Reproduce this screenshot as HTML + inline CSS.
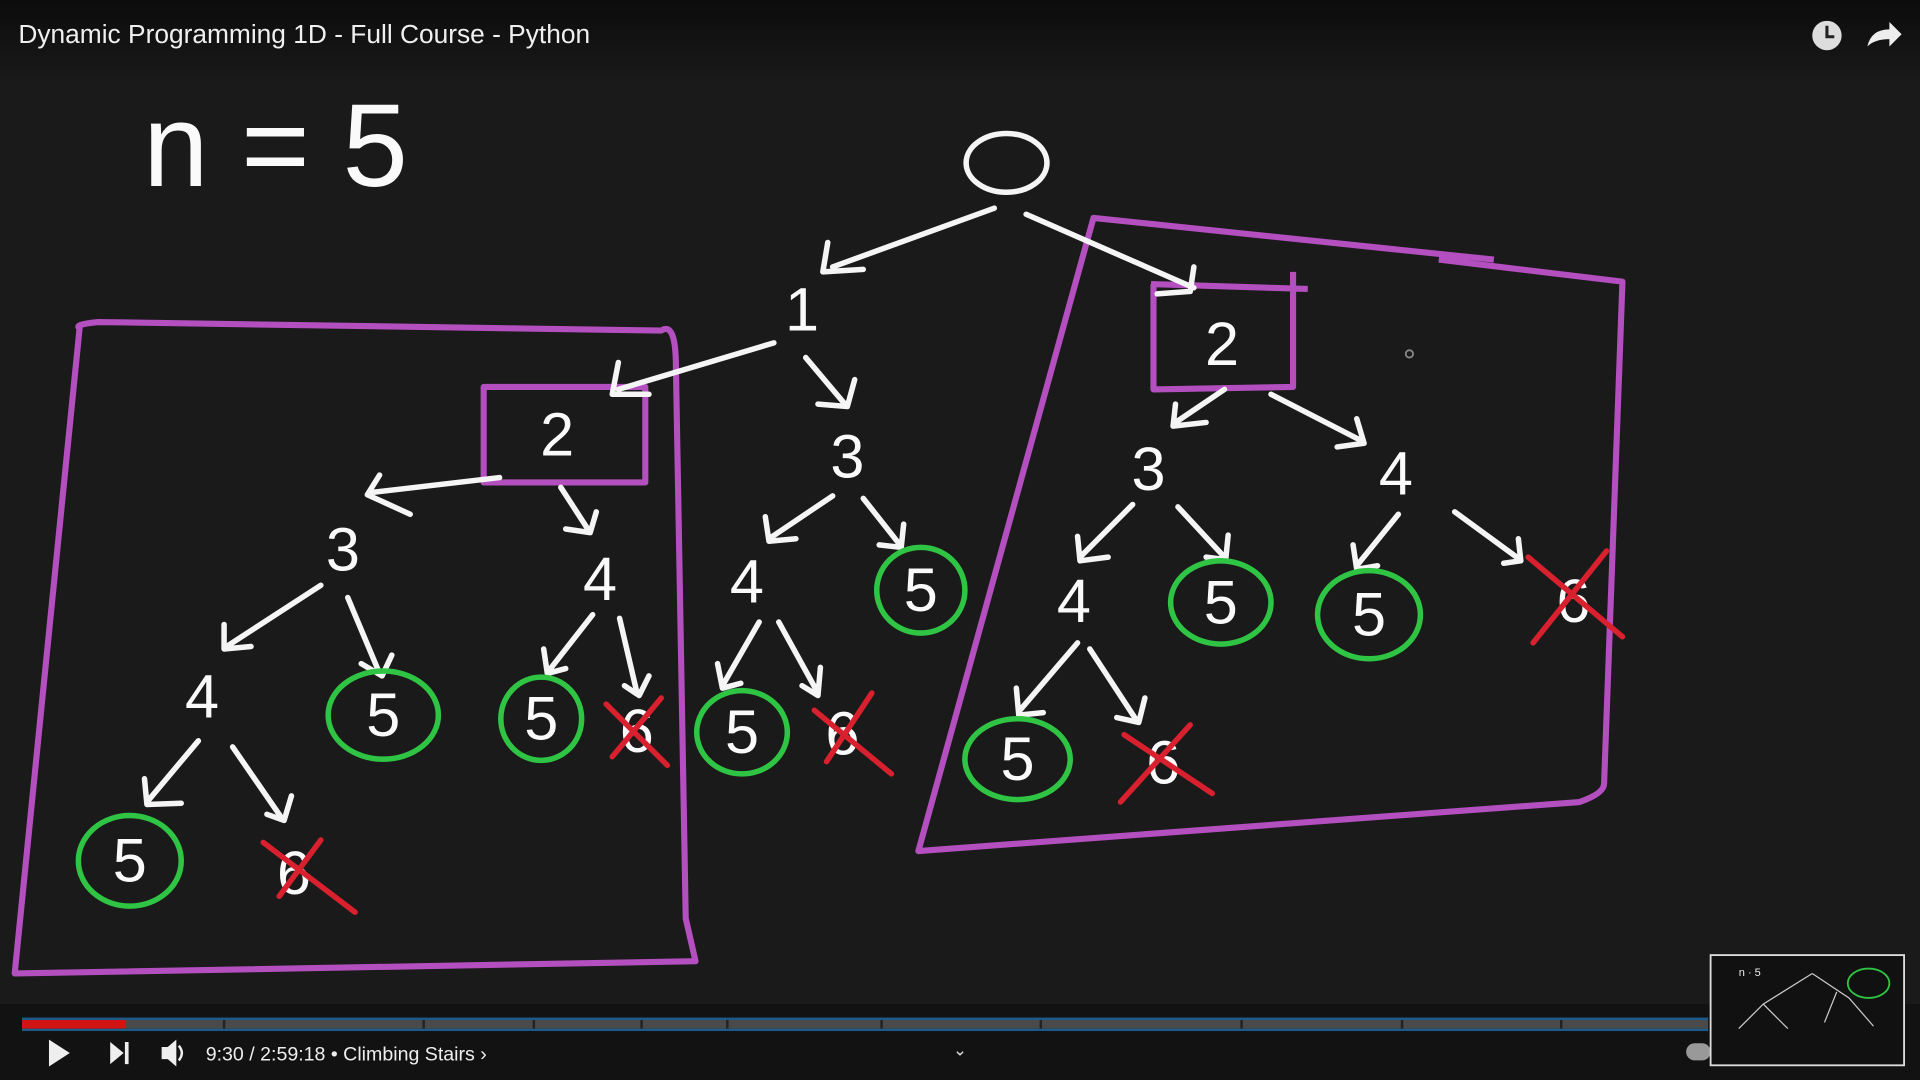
<!DOCTYPE html>
<html><head><meta charset="utf-8"><style>
html,body{margin:0;padding:0;background:#161616;width:1920px;height:1080px;overflow:hidden}
svg{display:block}
</style></head><body>
<svg width="1920" height="1080" viewBox="0 0 1568 882" xmlns="http://www.w3.org/2000/svg">
<defs>
<linearGradient id="top" x1="0" y1="0" x2="0" y2="1"><stop offset="0" stop-color="#0c0c0c"/><stop offset="1" stop-color="#1a1a1a"/></linearGradient>
</defs>
<rect width="1568" height="882" fill="#1a1a1a"/>
<rect width="1568" height="70" fill="url(#top)"/>
<rect y="820" width="1568" height="62" fill="#121212"/>
<text x="15" y="35" fill="#f0f0f0" font-family="Liberation Sans, sans-serif" font-size="21.5">Dynamic Programming 1D - Full Course - Python</text>
<circle cx="1492" cy="29" r="12" fill="#ddd"/><path d="M1492 21v9h6" stroke="#222" stroke-width="2.5" fill="none"/>
<path d="M1525 38q3-14 18-14v-6l10 10-10 10v-6q-12 0-18 6z" fill="#eee"/>

<g font-family="Liberation Sans, sans-serif" fill="#fafafa" text-anchor="middle">
<text x="225" y="152" font-size="96" font-weight="300">n = 5</text>
</g>

<!-- purple boxes -->
<g stroke="#b44fc0" stroke-width="5" fill="none" stroke-linejoin="round">
<path d="M65 268 Q60 265 80 263 L540 270 Q552 262 552 300 L560 750 L568 785 L12 795 Z"/>
<path d="M1220 212 L893 178 L750 695 L1290 655 Q1310 648 1310 640 L1325 230 L1175 212"/>
<rect x="395" y="316" width="132" height="78"/>
<path d="M940 232 L1068 236 M942 232 L942 318 L1056 316 L1056 222"/>
</g>

<!-- white arrows -->
<g stroke="#f5f5f5" stroke-width="4.5" fill="none" stroke-linecap="round" stroke-linejoin="round">
<ellipse cx="822" cy="133" rx="33" ry="24"/>
<path d="M812 170 L680 218 M676 198 L672 222 L705 220"/>
<path d="M838 175 L975 235 M975 218 L972 238 L945 240"/>
<path d="M632 280 L505 318 M505 296 L500 322 L530 322"/>
<path d="M658 292 L690 330 M698 310 L692 332 L668 330"/>
<path d="M408 390 L305 402 M310 388 L300 404 L335 420"/>
<path d="M458 398 L480 432 M487 418 L482 435 L462 432"/>
<path d="M262 478 L185 528 M183 510 L183 530 L205 528"/>
<path d="M284 488 L310 550 M320 535 L312 552 L295 542"/>
<path d="M484 502 L448 548 M444 530 L447 550 L462 546"/>
<path d="M506 505 L520 565 M530 552 L522 568 L510 560"/>
<path d="M162 605 L120 655 M118 636 L120 657 L148 656"/>
<path d="M190 610 L230 668 M238 650 L232 670 L218 665"/>
<path d="M680 405 L628 440 M625 422 L628 442 L650 440"/>
<path d="M705 407 L735 445 M738 428 L736 447 L718 445"/>
<path d="M620 508 L590 560 M586 542 L590 562 L605 558"/>
<path d="M636 508 L668 566 M670 545 L668 568 L655 560"/>
<path d="M1000 318 L960 345 M960 330 L958 348 L985 345"/>
<path d="M1038 322 L1112 360 M1108 342 L1114 362 L1092 365"/>
<path d="M925 412 L882 455 M880 438 L882 458 L905 455"/>
<path d="M962 414 L1000 455 M1003 437 L1001 457 L985 455"/>
<path d="M1142 420 L1108 462 M1105 445 L1108 465 L1125 462"/>
<path d="M1188 418 L1240 456 M1240 440 L1242 458 L1228 460"/>
<path d="M880 525 L833 580 M830 562 L832 584 L852 582"/>
<path d="M890 530 L928 588 M935 570 L930 590 L912 586"/>
</g>

<!-- green circles -->
<g stroke="#2fc443" stroke-width="4.5" fill="none">
<ellipse cx="313" cy="584" rx="45" ry="36"/>
<ellipse cx="442" cy="587" rx="33" ry="34"/>
<ellipse cx="752" cy="482" rx="36" ry="35"/>
<ellipse cx="606" cy="598" rx="37" ry="34"/>
<ellipse cx="997" cy="492" rx="41" ry="34"/>
<ellipse cx="1118" cy="502" rx="42" ry="36"/>
<ellipse cx="831" cy="620" rx="43" ry="33"/>
<ellipse cx="106" cy="703" rx="42" ry="37"/>
</g>

<!-- node labels -->
<g font-family="Liberation Sans, sans-serif" fill="#fafafa" text-anchor="middle" font-size="50">
<text x="655" y="270">1</text>
<text x="998" y="298">2</text>
<text x="455" y="372">2</text>
<text x="692" y="390">3</text>
<text x="280" y="466">3</text>
<text x="490" y="490">4</text>
<text x="165" y="586">4</text>
<text x="313" y="601">5</text>
<text x="442" y="604">5</text>
<text x="520" y="614">6</text>
<text x="610" y="492">4</text>
<text x="752" y="499">5</text>
<text x="606" y="615">5</text>
<text x="688" y="616">6</text>
<text x="938" y="400">3</text>
<text x="1140" y="404">4</text>
<text x="877" y="508">4</text>
<text x="997" y="509">5</text>
<text x="1118" y="519">5</text>
<text x="1285" y="508">6</text>
<text x="831" y="637">5</text>
<text x="950" y="640">6</text>
<text x="106" y="720">5</text>
<text x="240" y="730">6</text>
</g>

<!-- red X -->
<g stroke="#d8202e" stroke-width="4.5" stroke-linecap="round">
<path d="M495 575 L545 625 M540 570 L500 618"/>
<path d="M665 580 L728 632 M712 566 L675 622"/>
<path d="M1248 455 L1325 520 M1312 450 L1252 525"/>
<path d="M918 600 L990 648 M972 592 L915 655"/>
<path d="M215 688 L290 745 M262 686 L228 732"/>
</g>
<circle cx="1151" cy="289" r="3" fill="none" stroke="#888" stroke-width="1.5"/>

<!-- progress bar -->
<rect x="18" y="831" width="1377" height="2" fill="#1d5a8a"/>
<rect x="18" y="840" width="1377" height="2" fill="#1d5a8a"/>
<rect x="18" y="833" width="1377" height="7" fill="#4a4a4a"/>
<rect x="18" y="833" width="85" height="7" fill="#d01414"/>
<g fill="#222"><rect x="182" y="833" width="2" height="7"/><rect x="345" y="833" width="2" height="7"/><rect x="435" y="833" width="2" height="7"/><rect x="523" y="833" width="2" height="7"/><rect x="593" y="833" width="2" height="7"/><rect x="719" y="833" width="2" height="7"/><rect x="849" y="833" width="2" height="7"/><rect x="1013" y="833" width="2" height="7"/><rect x="1144" y="833" width="2" height="7"/><rect x="1274" y="833" width="2" height="7"/></g>
<path d="M40 849 L57 860 L40 871 Z" fill="#eee"/>
<path d="M90 851 L101 860 L90 869 Z M102 851 h3 v18 h-3 Z" fill="#eee"/>
<path d="M132 855 h5 l7 -6 v22 l-7 -6 h-5 Z" fill="#eee"/>
<path d="M146 854 q5 6 0 12" stroke="#eee" stroke-width="2" fill="none"/>
<text x="168" y="866" fill="#eee" font-family="Liberation Sans, sans-serif" font-size="16">9:30 / 2:59:18 • Climbing Stairs ›</text>
<text x="784" y="862" fill="#ddd" font-family="Liberation Sans, sans-serif" font-size="14" text-anchor="middle">⌄</text>
<rect x="1377" y="852" width="20" height="14" rx="7" fill="#999"/>
<rect x="1397" y="780" width="158" height="90" fill="#111" stroke="#ddd" stroke-width="1.5"/>
<ellipse cx="1526" cy="803" rx="17" ry="12" stroke="#2fc443" stroke-width="1.5" fill="none"/>
<text x="1420" y="797" fill="#eee" font-family="Liberation Sans, sans-serif" font-size="9">n · 5</text>
<g stroke="#ccc" stroke-width="1" fill="none"><path d="M1480 795 L1440 820 L1420 840 M1480 795 L1510 815 L1530 838 M1440 820 L1460 840 M1500 810 L1490 835"/></g>
</svg>
</body></html>
